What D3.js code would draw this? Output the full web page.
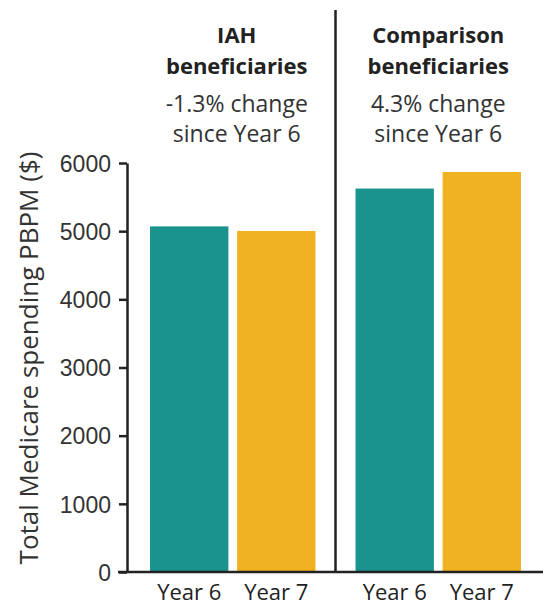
<!DOCTYPE html>
<html>
<head>
<meta charset="utf-8">
<script src="https://cdn.jsdelivr.net/npm/d3@7"></script>
<style>
  body { margin: 0; background: #fff; }
  svg { display: block; font-family: "Open Sans", sans-serif; }
</style>
</head>
<body>
<svg id="main_svg" width="543" height="608"></svg>
<script>
// chart data
const groups = ["IAH", "Comparison"];
const groupTitles = [["IAH", "beneficiaries"], ["Comparison", "beneficiaries"]];
const groupNotes = [["-1.3% change", "since Year 6"], ["4.3% change", "since Year 6"]];
const years = ["Year 6", "Year 7"];
const iahValues = [5070, 5003];
const comparisonValues = [5625, 5868];
const yTicks = [0, 1000, 2000, 3000, 4000, 5000, 6000];
const yTitle = "Total Medicare spending PBPM ($)";

const colors = { "Year 6": "#1a928e", "Year 7": "#efb321" };
const textColor = "#222";

const bars = [];
years.forEach((yr, i) => {
  bars.push({ group: "IAH", year: yr, value: iahValues[i] });
  bars.push({ group: "Comparison", year: yr, value: comparisonValues[i] });
});

const width = 543, height = 608;
const margin = { top: 163, bottom: 36, left: 127, right: 2 };
const svg = d3.select("#main_svg");

const x0 = d3.scaleBand().domain(groups).range([130, 541]).paddingInner(0);
const x1 = d3.scaleBand().domain(years).range([0, x0.bandwidth()])
  .paddingInner(0.1).paddingOuter(0.23);
const y = d3.scaleLinear().domain([0, 6000]).range([572, 163]);

// bars
svg.append("g")
  .selectAll("rect")
  .data(bars)
  .enter()
  .append("rect")
  .attr("x", d => x0(d.group) + x1(d.year))
  .attr("y", d => y(d.value))
  .attr("width", x1.bandwidth())
  .attr("height", d => y(0) - y(d.value))
  .attr("fill", d => colors[d.year]);

// y axis
const yAxis = svg.append("g")
  .attr("transform", `translate(${margin.left},0)`)
  .call(d3.axisLeft(y).tickValues(yTicks).tickFormat(d3.format("d"))
    .tickSize(8).tickPadding(8).tickSizeOuter(0));
yAxis.select(".domain").attr("stroke", textColor).attr("stroke-width", 2.5);
yAxis.selectAll(".tick line").attr("stroke", textColor).attr("stroke-width", 2.5);
yAxis.selectAll(".tick text")
  .attr("fill", "#333")
  .style("font-size", "23px")
  .attr("dy", "0.36em");

// x axis line
svg.append("line")
  .attr("x1", 118).attr("x2", width)
  .attr("y1", y(0)).attr("y2", y(0))
  .attr("stroke", textColor).attr("stroke-width", 2.5);

// divider between groups
svg.append("line")
  .attr("x1", x0("Comparison")).attr("x2", x0("Comparison"))
  .attr("y1", 10).attr("y2", y(0))
  .attr("stroke", textColor).attr("stroke-width", 2.5);

// x labels
svg.append("g")
  .selectAll("text")
  .data(bars)
  .enter()
  .append("text")
  .attr("x", d => x0(d.group) + x1(d.year) + x1.bandwidth() / 2)
  .attr("y", 600)
  .attr("text-anchor", "middle")
  .attr("fill", textColor)
  .style("font-size", "22px")
  .text(d => d.year);

// group headers
groups.forEach((g, i) => {
  const cx = x0(g) + x0.bandwidth() / 2 + (i === 0 ? 4 : 0);
  const hdr = svg.append("g").attr("text-anchor", "middle").attr("fill", textColor);
  groupTitles[i].forEach((t, j) => {
    hdr.append("text")
      .attr("x", cx).attr("y", 43 + j * 31)
      .style("font-size", "22px").style("font-weight", "bold")
      .text(t);
  });
  groupNotes[i].forEach((t, j) => {
    hdr.append("text")
      .attr("x", cx).attr("y", 112 + j * 30)
      .style("font-size", "23px").attr("fill", "#333")
      .text(t);
  });
});

// y title
svg.append("text")
  .attr("transform", `translate(38,358) rotate(-90)`)
  .attr("text-anchor", "middle")
  .attr("fill", "#333")
  .style("font-size", "26px")
  .text(yTitle);
</script>
</body>
</html>
